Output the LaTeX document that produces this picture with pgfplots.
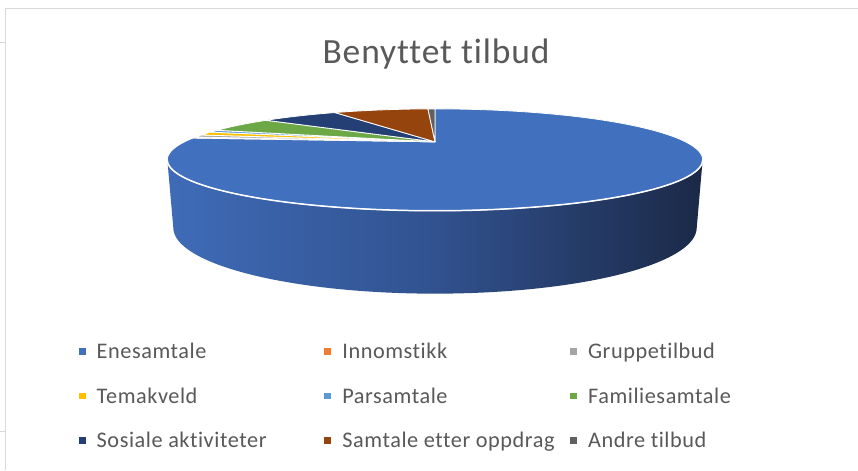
\documentclass[border=0pt]{standalone}
\usepackage{fontspec}
\setmainfont[Ligatures={NoCommon}]{Carlito}
\usepackage{pgfplots}
\pgfplotsset{compat=1.18}
\definecolor{cA}{HTML}{4070BE}
\definecolor{cB}{HTML}{ED7D31}
\definecolor{cC}{HTML}{A5A5A5}
\definecolor{cD}{HTML}{FFC000}
\definecolor{cE}{HTML}{5B9BD5}
\definecolor{cF}{HTML}{6CA845}
\definecolor{cG}{HTML}{243F73}
\definecolor{cH}{HTML}{95440E}
\definecolor{cI}{HTML}{606060}
\definecolor{sL}{HTML}{3F6BB7}
\definecolor{sM}{HTML}{31528F}
\definecolor{sR}{HTML}{1B2947}
\definecolor{tgrey}{HTML}{595959}
\definecolor{frame}{HTML}{D9D9D9}
% values (percent)
\def\vA{76.4}% Enesamtale
\def\vB{0.4}% Innomstikk
\def\vC{0.8}% Gruppetilbud
\def\vD{1.2}% Temakveld
\def\vE{0.8}% Parsamtale
\def\vF{5.3}% Familiesamtale
\def\vG{6.4}% Sosiale aktiviteter
\def\vH{8.1}% Samtale etter oppdrag
\def\vI{0.6}% Andre tilbud
\pgfmathsetmacro\tot{\vA+\vB+\vC+\vD+\vE+\vF+\vG+\vH+\vI}
\pgfmathsetmacro\aA{(\vA/\tot)*360}
\pgfmathsetmacro\aB{\aA+(\vB/\tot)*360}
\pgfmathsetmacro\aC{\aB+(\vC/\tot)*360}
\pgfmathsetmacro\aD{\aC+(\vD/\tot)*360}
\pgfmathsetmacro\aE{\aD+(\vE/\tot)*360}
\pgfmathsetmacro\aF{\aE+(\vF/\tot)*360}
\pgfmathsetmacro\aG{\aF+(\vG/\tot)*360}
\pgfmathsetmacro\aH{\aG+(\vH/\tot)*360}
\pgfmathsetmacro\aI{\aH+(\vI/\tot)*360}
\newcommand\slice[4]{\addplot[fill=#3, draw=white, line width=0.8pt, line join=round, domain=#1:#2, samples=#4, variable=\t] ({px(\t)},{py(\t)}) -- (435,142) -- cycle;}
\newcommand\legfont{\fontsize{22.3}{26}\selectfont\addfontfeatures{LetterSpace=2.5}}
\begin{document}
\begin{tikzpicture}[declare function={
  px(\t)=435+250.75*sin(\t)/(1+0.3529*cos(\t));
  py(\t)=160-(51*cos(\t)+18)/(1+0.3529*cos(\t));
  sx(\t)=(\t<=1) ? (px(249.33-138.66*\t)) : (435+262*cos(180*(\t-1)));
  sy(\t)=(\t<=1) ? (py(249.33-138.66*\t)) : (228+66*sin(180*(\t-1)));
}]
\begin{axis}[
  scale only axis, width=858pt, height=471pt,
  xmin=0, xmax=858, ymin=0, ymax=471, y dir=reverse,
  hide axis, clip=false,
  legend columns=3,
  legend image code/.code={\fill[#1,draw=none] (0pt,4pt) rectangle (7pt,10.7pt);},
  legend style={at={(axis cs:78.3,343.3)}, anchor=north west, draw=none, fill=none,
    inner sep=0pt, outer sep=0pt, row sep=23.5pt,
    font=\legfont, text=tgrey,
    nodes={inner sep=0pt, anchor=base west, text height=16pt, text depth=5pt},
    /tikz/every odd column/.append style={column sep=11pt}},
]
\path[fill=white] (0,0) rectangle (858,471);
\draw[frame, line width=1pt] (5,471) -- (5,8.5) -- (858,8.5);
\draw[frame, line width=1pt] (0,43) -- (5,43);
\draw[frame, line width=1pt] (0,432) -- (5,432);
\node[anchor=base, font=\fontsize{35.5}{40}\selectfont\addfontfeatures{LetterSpace=2.5}, text=tgrey] at (436,63.3) {Benyttet tilbud};
% side wall
\addplot[forget plot, draw=none, left color=sL, right color=sR, middle color=sM, domain=0:2, samples=201, variable=\t] ({sx(\t)},{sy(\t)}) -- cycle;
% top slices
\slice{0}{\aA}{cA}{240}
\slice{\aA}{\aB}{cB}{5}
\slice{\aB}{\aC}{cC}{5}
\slice{\aC}{\aD}{cD}{6}
\slice{\aD}{\aE}{cE}{5}
\slice{\aE}{\aF}{cF}{20}
\slice{\aF}{\aG}{cG}{20}
\slice{\aG}{\aH}{cH}{25}
\slice{\aH}{\aI}{cI}{5}
% rim highlight
\addplot[forget plot, white, line width=1.5pt, domain=110.67:249.33, samples=120, variable=\t] ({px(\t)},{py(\t)});
\legend{\makebox[228pt][l]{Enesamtale},\makebox[228pt][l]{Innomstikk},Gruppetilbud,
  \makebox[228pt][l]{Temakveld},\makebox[228pt][l]{Parsamtale},Familiesamtale,
  \makebox[228pt][l]{Sosiale aktiviteter},\makebox[228pt][l]{Samtale etter oppdrag},Andre tilbud}
\end{axis}
\end{tikzpicture}
\end{document}
